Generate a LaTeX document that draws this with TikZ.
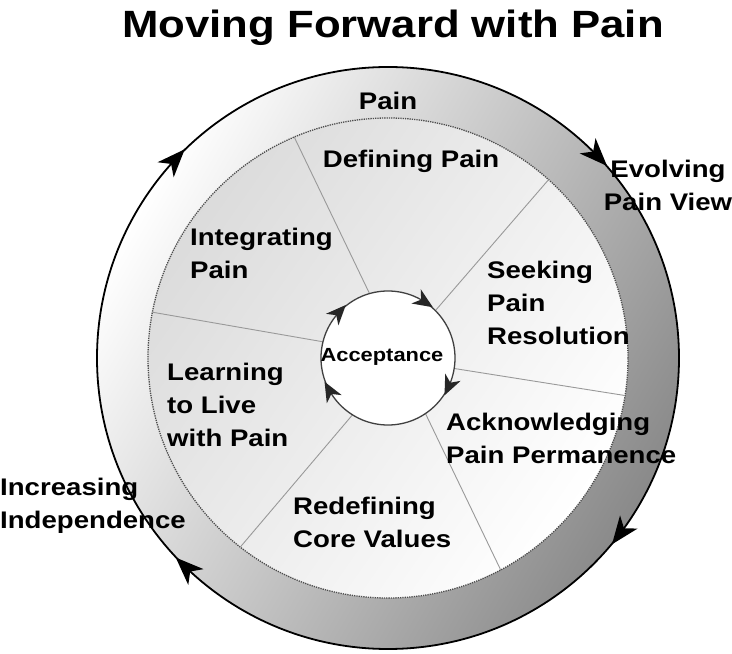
\documentclass[tikz,border=0pt]{standalone}
\usepackage{fontspec}
\setmainfont{Liberation Sans}[FakeStretch=1.15]

\tikzset{
  lab/.style={font=\bfseries\fontsize{24}{33}\selectfont, align=left, inner sep=0pt},
  spoke/.style={black!40, line width=0.9pt}
}

\begin{document}
\begin{tikzpicture}[x=1pt,y=1pt]
\useasboundingbox (0,0) rectangle (732,654);

\begin{scope}[shift={(388,296)}]
\shade[even odd rule, top color=white, bottom color=black!46, shading angle=60]
  (0,0) circle (291) (0,0) circle (240);
\shade[top color=black!14, bottom color=white, shading angle=55] (0,0) circle (240);
\draw[black!70, line width=1.3pt, densely dotted] (0,0) circle (240);
\foreach \a/\b in {106/113,45/48,-9/-9,-56/-62,-122/-128,166/169}
  \draw[spoke] (\a:67) -- (\b:240);
\draw[black, line width=1.8pt] (0,0) circle (291);
\foreach \a in {137,44,-37,-134}
  \fill[shift={(\a:291)}, rotate=\a-90] (14,0) -- (-14,11) -- (-6,0) -- (-14,-11) -- cycle;
\draw[fill=white, draw=black!75, line width=1.3pt] (0,0) circle (67);
\foreach \a in {57,-25,-151,137}
  \fill[black!85, shift={(\a:67)}, rotate=\a-90] (10,0) -- (-10,8.5) -- (-4,0) -- (-10,-8.5) -- cycle;
\end{scope}

\node[lab, font=\bfseries\fontsize{38}{44}\selectfont] (title) at (393,626) {Moving Forward with Pain};
\node[lab] (pain) at (388,553) {Pain};
\node[lab] (defining) at (411,493) {Defining Pain};
\node[lab, align=center] (evolving) at (668,469) {Evolving\\Pain View};
\node[lab, anchor=west] (integrating) at (190,401) {Integrating\\Pain};
\node[lab, anchor=west] (seeking) at (487,351) {Seeking\\Pain\\Resolution};
\node[lab, font=\bfseries\fontsize{19}{22}\selectfont] (acceptance) at (382,297) {Acceptance};
\node[lab, anchor=west] (learning) at (167,249) {Learning\\to Live\\with Pain};
\node[lab, anchor=west] (acknowledging) at (446,216) {Acknowledging\\Pain Permanence};
\node[lab, anchor=west] (redefining) at (293,132) {Redefining\\Core Values};
\node[lab, anchor=west] (increasing) at (0,148) {Increasing\\Independence};
\end{tikzpicture}
\end{document}
